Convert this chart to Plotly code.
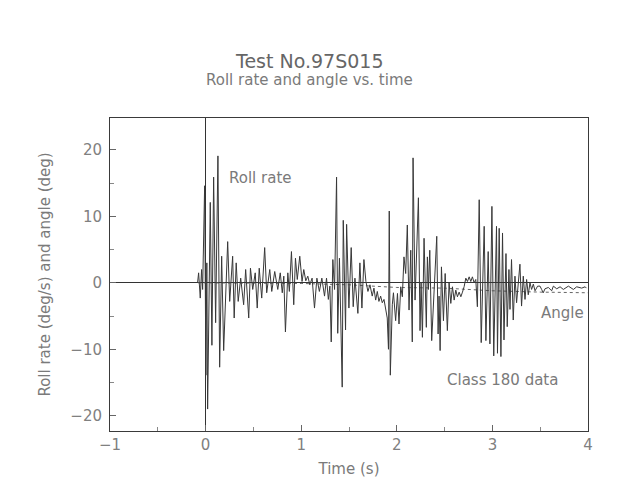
import plotly.graph_objects as go

# Roll rate (deg/s) vs time (s)
roll_t = [-0.084, -0.073, -0.056, -0.042, -0.031, -0.010, 0.003, 0.013, 0.021, 0.049,
          0.066, 0.084, 0.105, 0.129, 0.147, 0.168, 0.189, 0.210, 0.231, 0.252,
          0.283, 0.299, 0.320, 0.341, 0.367, 0.398, 0.419, 0.451, 0.469, 0.493,
          0.519, 0.540, 0.561, 0.587, 0.618, 0.639, 0.671, 0.692, 0.723, 0.755,
          0.781, 0.802, 0.818, 0.835, 0.860, 0.876, 0.898, 0.922,
          0.940, 0.959, 0.985, 1.009, 1.027, 1.048, 1.069, 1.090, 1.114, 1.139,
          1.164, 1.190, 1.216, 1.244, 1.265, 1.284, 1.300, 1.314, 1.331, 1.349,
          1.370, 1.382, 1.400, 1.429, 1.440, 1.464, 1.475, 1.499, 1.523, 1.544,
          1.562, 1.593, 1.614, 1.635, 1.656, 1.677, 1.698, 1.719, 1.743, 1.761,
          1.779, 1.796, 1.813, 1.831, 1.848, 1.866, 1.883, 1.900, 1.913, 1.921,
          1.932, 1.953,
          1.965, 1.988, 2.007, 2.023, 2.041, 2.058, 2.075, 2.093, 2.110, 2.128,
          2.146, 2.162, 2.170, 2.191, 2.226, 2.243, 2.254, 2.268, 2.285, 2.309,
          2.320, 2.331, 2.345, 2.365, 2.418, 2.432, 2.442, 2.453, 2.467, 2.488,
          2.506, 2.529, 2.547, 2.565, 2.582, 2.600, 2.617, 2.634, 2.652, 2.670,
          2.687, 2.704, 2.722, 2.739, 2.757, 2.774, 2.791, 2.809, 2.826, 2.843,
          2.862, 2.883, 2.914, 2.932, 2.956, 2.974, 2.995, 3.014,
          3.043, 3.053, 3.071, 3.089, 3.106, 3.121, 3.142, 3.155, 3.173, 3.184,
          3.200, 3.218, 3.236, 3.253, 3.288, 3.305, 3.323, 3.341, 3.358, 3.375,
          3.393, 3.410, 3.428, 3.446, 3.473, 3.498, 3.515, 3.532, 3.550, 3.585,
          3.620, 3.638, 3.673, 3.708, 3.742, 3.795, 3.847, 3.882, 3.934, 3.970,
          3.983]
roll_v = [0.0, 1.5, -2.3, 2.0, -1.0, 14.6, -13.9, 3.0, -19.0, 12.1,
          -9.4, 15.9, -6.0, 19.1, -12.7, 4.0, -10.2, -1.0, 6.2, -2.8,
          4.0, -5.3, 3.0, -2.8, 0.7, -3.3, 2.0, -5.3, 2.2, -1.0,
          1.5, -3.8, 2.2, -2.3, 5.3, -1.5, 2.0, -1.3, 1.7, -1.0,
          1.5, -1.5, 1.0, -7.4, 1.5, -1.3, 4.7, -3.3,
          3.7, 0.5, 4.0, 0.2, 2.0, 0.3, 1.0, -0.3, 0.7, -3.8,
          0.7, -1.3, 0.7, -2.0, 0.7, -2.5, -0.5, -8.9, 3.5, -1.0,
          15.9, -7.6, 3.7, -15.7, 9.4, -7.1, 8.8, -3.8, 5.3, -3.6,
          0.7, -4.6, 3.0, -3.8, 3.5, 0.2, -1.3, -0.3, -2.0, -0.8,
          -2.6, -1.3, -2.8, -2.0, -3.0, -2.5, -3.8, -5.3, -10.0, 10.8,
          -13.9, -3.3,
          -1.5, -5.7, -1.6, -6.2, -0.6, -2.1, 3.9, 1.4, 8.7, -4.1,
          4.9, -8.9, 18.8, -2.6, 12.8, -7.2, 0.0, -8.2, 6.7, -6.7,
          3.9, -1.0, 4.9, -8.7, 7.0, -7.7, -2.0, -10.2, 2.4, -5.7,
          1.4, -7.2, 0.0, -3.1, -0.6, -2.6, -1.1, -2.1, -1.4, -2.1,
          -1.4, -0.6, 0.7, 0.2, 0.9, 0.2, 0.9, 0.0, 0.5, -3.6,
          12.5, -9.0, 8.5, -8.7, 4.7, -9.2, 11.5, -11.0,
          8.5, -10.6, 8.2, -11.1, 7.5, -8.6, 4.4, -6.6, 2.0, -4.0,
          3.5, -5.6, 1.0, -3.0, 2.8, -3.5, 1.0, -2.5, 0.5, -1.8,
          0.0, -1.0, -0.2, -1.2, -0.5, -0.5, -1.0, -1.5, -0.9, -0.7,
          -1.2, -0.5, -0.9, -0.6, -1.0, -0.5, -1.0, -0.6, -0.8, -0.6,
          -0.8]

# Roll angle (deg) vs time (s)
angle_t = [-0.08, 0.5, 1.0, 1.5, 1.8, 2.0, 2.5, 2.8, 3.0, 3.5, 4.0]
angle_v = [0.0, 0.0, -0.1, -0.3, -0.6, -0.7, -0.8, -1.0, -1.2, -1.4, -1.5]

x_ticks = [-1, 0, 1, 2, 3, 4]
y_ticks = [-20, -10, 0, 10, 20]

FONT = "DejaVu Sans"
TXT = "#7a7a7a"

fig = go.Figure()
fig.add_trace(go.Scatter(x=angle_t, y=angle_v, mode="lines",
                         line=dict(color="#666666", width=1, dash="dot"),
                         name="Angle", showlegend=False))
fig.add_trace(go.Scatter(x=roll_t, y=roll_v, mode="lines",
                         line=dict(color="#383838", width=1),
                         name="Roll rate", showlegend=False))

axis_common = dict(showgrid=False, showline=True, linecolor="#3a3a3a", linewidth=1,
                   mirror=True, ticks="inside", ticklen=6, tickcolor="#666666",
                   zeroline=True, zerolinecolor="#333333", zerolinewidth=1,
                   automargin=False,
                   tickfont=dict(family=FONT, size=15, color="#808080"))

fig.update_xaxes(range=[-1, 4], tickvals=x_ticks,
                 ticktext=[("\u2212" + str(-v)) if v < 0 else str(v) for v in x_ticks],
                 minor=dict(dtick=0.5, ticks="inside", ticklen=4, tickcolor="#888888"),
                 title=dict(text="Time (s)", font=dict(family=FONT, size=15, color=TXT),
                            standoff=10),
                 **axis_common)
fig.update_yaxes(range=[-22.3, 24.8], tickvals=y_ticks,
                 ticktext=[("\u2212" + str(-v)) if v < 0 else str(v) for v in y_ticks],
                 ticklabelstandoff=4,
                 minor=dict(dtick=5, ticks="inside", ticklen=4, tickcolor="#888888"),
                 title=dict(text="Roll rate (deg/s) and angle (deg)",
                            font=dict(family=FONT, size=15, color=TXT), standoff=16),
                 **axis_common)

# the page body adds an 8px offset, so the figure is 8px smaller than the window
W, H = 620, 471
ML, MR, MT, MB = 102, 40, 110, 48
ph = H - MT - MB
fig.update_layout(
    width=W, height=H,
    margin=dict(l=ML, r=MR, t=MT, b=MB),
    paper_bgcolor="white", plot_bgcolor="white",
    font=dict(family=FONT, color=TXT),
    annotations=[
        dict(text="Test No.97S015", x=0.418, xref="paper", y=1 + 57 / ph, yref="paper",
             xanchor="center", yanchor="middle",
             showarrow=False, font=dict(family=FONT, size=19, color="#666666")),
        dict(text="Roll rate and angle vs. time", x=0.418, xref="paper",
             y=1 + 38 / ph, yref="paper", xanchor="center", yanchor="middle",
             showarrow=False, font=dict(family=FONT, size=15, color=TXT)),
        dict(text="Roll rate", x=0.22, y=15.8, xref="x", yref="y",
             xanchor="left", yanchor="middle",
             showarrow=False, font=dict(family=FONT, size=15, color=TXT)),
        dict(text="Angle", x=3.98, y=-4.5, xref="x", yref="y",
             xanchor="right", yanchor="middle",
             showarrow=False, font=dict(family=FONT, size=15, color=TXT)),
        dict(text="Class 180 data", x=2.5, y=-14.6, xref="x", yref="y",
             xanchor="left", yanchor="middle",
             showarrow=False, font=dict(family=FONT, size=15, color=TXT)),
    ],
)

fig.write_html("out.html")
